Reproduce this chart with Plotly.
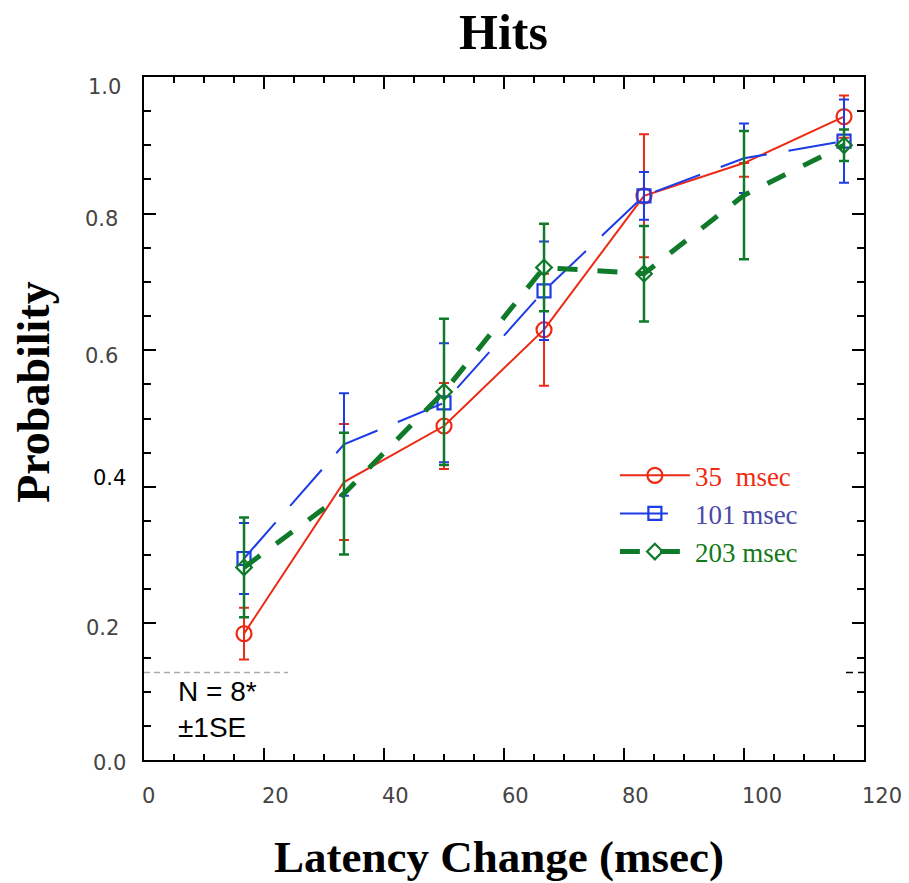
import plotly.graph_objects as go

# ---------------- data ----------------
latency = [16.67, 33.33, 50.0, 66.67, 83.33, 100.0, 116.67]

p35 = [0.185, 0.407, 0.489, 0.630, 0.826, 0.874, 0.942]
se35 = [0.038, 0.085, 0.063, 0.082, 0.090, 0.020, 0.031]

p101 = [0.295, 0.462, 0.523, 0.687, 0.826, 0.881, 0.906]
se101 = [0.052, 0.075, 0.087, 0.072, 0.035, 0.051, 0.061]

p203 = [0.282, 0.390, 0.539, 0.721, 0.712, 0.827, 0.900]
se203 = [0.073, 0.089, 0.107, 0.064, 0.070, 0.094, 0.023]

# points at which the original plotted a symbol
symbol_drawn = [True, False, True, True, True, False, True]

chance_level = 0.128

x_ticks = [0, 20, 40, 60, 80, 100, 120]
y_ticks = [0.0, 0.2, 0.4, 0.6, 0.8, 1.0]
y_tick_text = ["0.0", "0.2", "0.4", "0.6", "0.8", "1.0"]

# ---------------- styling ----------------
RED = "#ec2a14"
BLUE = "#1c3ce6"
GREEN = "#0f7a2a"

shown = [i for i, d in enumerate(symbol_drawn) if d]
hidden_style = dict(marker=dict(opacity=0))

fig = go.Figure()

fig.add_trace(go.Scatter(
    x=latency, y=p35, mode="lines+markers",
    name="<span style='color:#f02a10'>35\u00a0 msec</span>",
    line=dict(color=RED, width=2),
    marker=dict(symbol="circle-open", size=15, color=RED, line=dict(width=2.2, color=RED)),
    selectedpoints=shown, selected=dict(marker=dict(opacity=1)), unselected=hidden_style,
    error_y=dict(type="data", array=[0 if i == 5 else v for i, v in enumerate(se35)],
                 arrayminus=se35, symmetric=False,
                 color=RED, thickness=2, width=5),
))

fig.add_trace(go.Scatter(
    x=latency, y=p101, mode="lines+markers",
    name="<span style='color:#4a4aa8'>101 msec</span>",
    line=dict(color=BLUE, width=2, dash="48px,22px"),
    marker=dict(symbol="square-open", size=13, color=BLUE, line=dict(width=2.2, color=BLUE)),
    selectedpoints=shown, selected=dict(marker=dict(opacity=1)), unselected=hidden_style,
    error_y=dict(type="data", array=se101, color=BLUE, thickness=2, width=5),
))

fig.add_trace(go.Scatter(
    x=latency, y=p203, mode="lines+markers",
    name="<span style='color:#137a1a'>203 msec</span>",
    line=dict(color=GREEN, width=5, dash="20px,20px"),
    marker=dict(symbol="diamond-open", size=12, color=GREEN, line=dict(width=2.2, color=GREEN)),
    selectedpoints=shown, selected=dict(marker=dict(opacity=1)), unselected=hidden_style,
    error_y=dict(type="data", array=se203, color=GREEN, thickness=2.5, width=5),
))

axis_common = dict(
    showline=True, linecolor="black", linewidth=2, mirror="ticks",
    ticks="inside", ticklen=12, tickwidth=2, tickcolor="black",
    showgrid=False, zeroline=False, showticklabels=False,
)

fig.update_xaxes(range=[0, 120], tick0=0, dtick=20,
                 minor=dict(ticks="inside", ticklen=6, tickwidth=1.5, tickcolor="black", dtick=5, showgrid=False),
                 **axis_common)
fig.update_yaxes(range=[0, 1.0], tick0=0, dtick=0.2,
                 minor=dict(ticks="inside", ticklen=7, tickwidth=1.5, tickcolor="black", dtick=0.05, showgrid=False),
                 **axis_common)

# chance-level marks
fig.add_shape(type="line", xref="x", yref="y", x0=0, x1=24, y0=chance_level, y1=chance_level,
              line=dict(color="#aaaaaa", width=1.5, dash="6px,4px"))
fig.add_shape(type="line", xref="x", yref="y", x0=117, x1=120, y0=chance_level, y1=chance_level,
              line=dict(color="black", width=1.5, dash="7px,5px"))

ann = []
tick_font = dict(family="DejaVu Sans", size=21, color="#444444")
for v in x_ticks:
    ann.append(dict(x=v, y=0, xref="x", yref="paper", text=str(v), showarrow=False,
                    xanchor="left", yanchor="middle", xshift=-4, yshift=-36, font=tick_font))

y_xshift = [-16, -23, -16, -24, -24, -21]
y_yshift = [-3, -5, 9, -6, -5, -10]
for v, t, xs, ys in zip(y_ticks, y_tick_text, y_xshift, y_yshift):
    f = dict(tick_font)
    if t == "0.4":
        f["color"] = "#000000"
    ann.append(dict(x=0, y=v, xref="paper", yref="y", text=t, showarrow=False,
                    xanchor="right", yanchor="middle", xshift=xs, yshift=ys, font=f))

ann.append(dict(x=0.499, y=1.066, xref="paper", yref="paper", text="<b>Hits</b>", showarrow=False,
                xanchor="center", yanchor="middle",
                font=dict(family="Liberation Serif", size=50, color="black")))
ann.append(dict(x=0.4924, y=-0.142, xref="paper", yref="paper", text="<b>Latency Change (msec)</b>",
                showarrow=False, xanchor="center", yanchor="middle",
                font=dict(family="Liberation Serif", size=45, color="black")))
ann.append(dict(x=-0.1528, y=0.539, xref="paper", yref="paper", text="<b>Probability</b>",
                showarrow=False, xanchor="center", yanchor="middle", textangle=-90,
                font=dict(family="Liberation Serif", size=46, color="black")))

note_font = dict(family="Liberation Sans", size=28, color="black")
ann.append(dict(x=5.4, y=0.10, xref="x", yref="y", text="N = 8*", showarrow=False,
                xanchor="left", yanchor="middle", font=note_font))
ann.append(dict(x=5.4, y=0.048, xref="x", yref="y", text="±1SE", showarrow=False,
                xanchor="left", yanchor="middle", font=note_font))

fig.update_layout(
    width=909, height=883,
    margin=dict(l=144, r=45, t=77, b=123),
    paper_bgcolor="white", plot_bgcolor="white",
    showlegend=True,
    legend=dict(x=0.654, y=0.452, xanchor="left", yanchor="top",
                bgcolor="rgba(0,0,0,0)", borderwidth=0, itemwidth=70,
                font=dict(family="Liberation Serif", size=27), tracegroupgap=0),
    annotations=ann,
)

fig.write_html("out.html", config={"displayModeBar": False},
               post_script="document.body.style.margin='0px';document.body.style.padding='0px';")
